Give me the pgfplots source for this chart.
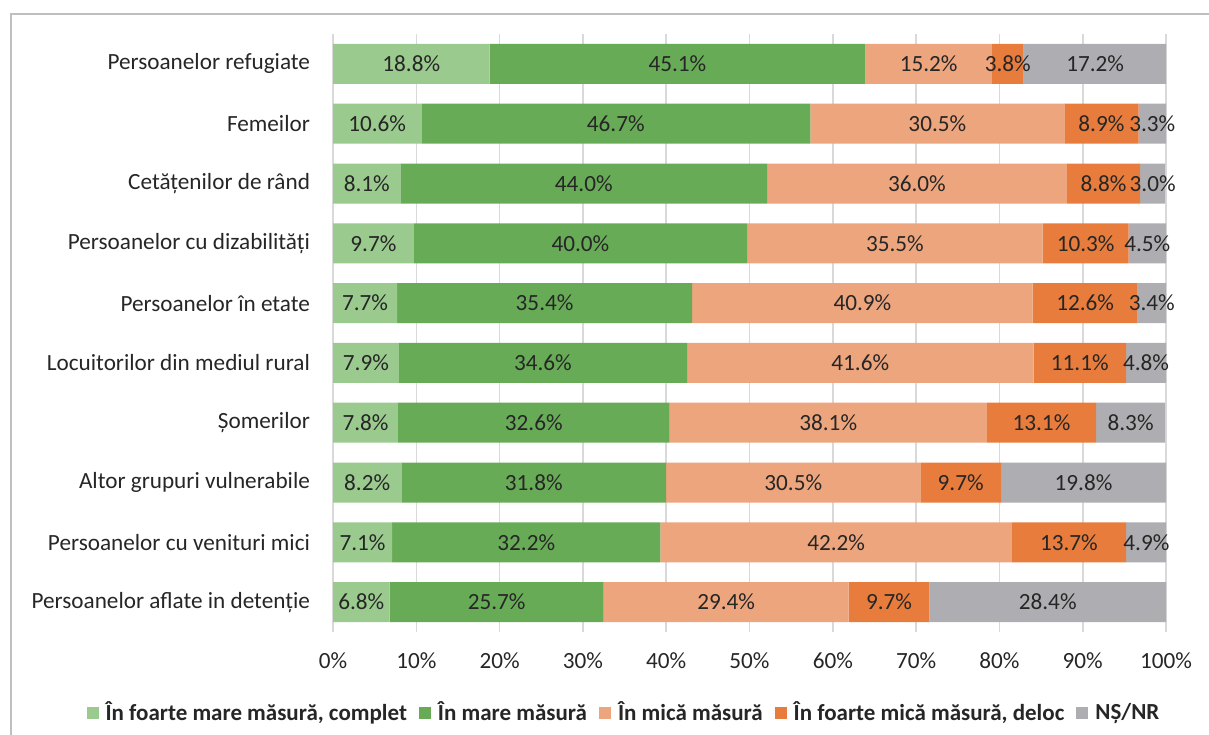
\documentclass[border=0pt]{standalone}
\usepackage{fontspec}
\setmainfont{Carlito}
\usepackage{pgfplots}
\usepackage{pgfplotstable}
\pgfplotsset{compat=1.18}
\pgfplotsset{/pgf/number format/assume math mode=true}

\definecolor{cA}{HTML}{9ACA8E}
\definecolor{cB}{HTML}{68AB57}
\definecolor{cC}{HTML}{EDA57E}
\definecolor{cD}{HTML}{E77C3C}
\definecolor{cE}{HTML}{AEAEB2}
\definecolor{txt}{HTML}{262626}
\definecolor{gridc}{HTML}{D9D9D9}

% idx 9 = top row
\pgfplotstableread{
idx a b c d e
9 18.8 45.1 15.2 3.8 17.2
8 10.6 46.7 30.5 8.9 3.3
7 8.1 44.0 36.0 8.8 3.0
6 9.7 40.0 35.5 10.3 4.5
5 7.7 35.4 40.9 12.6 3.4
4 7.9 34.6 41.6 11.1 4.8
3 7.8 32.6 38.1 13.1 8.3
2 8.2 31.8 30.5 9.7 19.8
1 7.1 32.2 42.2 13.7 4.9
0 6.8 25.7 29.4 9.7 28.4
}\datatable
\pgfplotstablecreatecol[create col/expr={\thisrow{a}/2}]{ma}\datatable
\pgfplotstablecreatecol[create col/expr={\thisrow{a}+\thisrow{b}/2}]{mb}\datatable
\pgfplotstablecreatecol[create col/expr={\thisrow{a}+\thisrow{b}+\thisrow{c}/2}]{mc}\datatable
\pgfplotstablecreatecol[create col/expr={\thisrow{a}+\thisrow{b}+\thisrow{c}+\thisrow{d}/2}]{md}\datatable
\pgfplotstablecreatecol[create col/expr={\thisrow{a}+\thisrow{b}+\thisrow{c}+\thisrow{d}+\thisrow{e}/2}]{me}\datatable

\def\fnt{\fontsize{11.6}{13}\selectfont}
\pgfplotsset{
  geom/.style={
    at={(166.5pt,51pt)}, anchor=south west,
    scale only axis, width=416.5pt, height=299pt,
    xmin=0, xmax=100, ymin=-0.5, ymax=9.5,
  },
  lbl/.style={only marks, mark=none, point meta=explicit,
    nodes near coords={\pgfmathprintnumber[fixed,fixed zerofill,precision=1]{\pgfplotspointmeta}\%},
    nodes near coords align=center,
    every node near coord/.append style={anchor=center, text=txt, font=\fnt, inner sep=0pt}},
}

\begin{document}
\begin{tikzpicture}
\path[use as bounding box] (0pt,0pt) rectangle (604.5pt,367pt);
\draw[line width=0.8pt, color=black!25] (5.5pt,-5pt) -- (5.5pt,360pt) -- (615pt,360pt);

\begin{axis}[geom,
  xbar stacked, bar width=20pt,
  axis line style={draw=none}, tick style={draw=none},
  xmajorgrids, grid style={gridc, line width=0.8pt},
  xtick={0,10,...,100},
  xticklabel={\pgfmathprintnumber{\tick}\%},
  xticklabel style={yshift=-7pt},
  ytick={0,...,9},
  yticklabels={Persoanelor aflate in detenție, Persoanelor cu venituri mici, Altor grupuri vulnerabile, Șomerilor, Locuitorilor din mediul rural, Persoanelor în etate, Persoanelor cu dizabilități, Cetățenilor de rând, Femeilor, Persoanelor refugiate},
  yticklabel style={xshift=-8pt},
  tick label style={font=\fnt, text=txt},
  legend style={at={(rel axis cs:0.3505,-0.1355)}, anchor=center, draw=none,
    legend columns=-1, font=\bfseries\fontsize{11.5}{13}\selectfont, text=txt,
    /tikz/every odd column/.append style={column sep=1.5pt},
    /tikz/every even column/.append style={column sep=4pt},
    inner sep=0pt},
  legend image code/.code={\fill[#1] (0pt,-3pt) rectangle (6pt,3pt);},
]
\addplot[fill=cA, draw=none] table[x=a, y=idx] {\datatable};
\addplot[fill=cB, draw=none] table[x=b, y=idx] {\datatable};
\addplot[fill=cC, draw=none] table[x=c, y=idx] {\datatable};
\addplot[fill=cD, draw=none] table[x=d, y=idx] {\datatable};
\addplot[fill=cE, draw=none] table[x=e, y=idx] {\datatable};
\legend{{În foarte mare măsură, complet}, În mare măsură, În mică măsură, {În foarte mică măsură, deloc}, NȘ/NR}
\end{axis}

\begin{axis}[geom, hide axis, clip=false]
\addplot[lbl] table[x=ma, y=idx, meta=a] {\datatable};
\addplot[lbl] table[x=mb, y=idx, meta=b] {\datatable};
\addplot[lbl] table[x=mc, y=idx, meta=c] {\datatable};
\addplot[lbl] table[x=md, y=idx, meta=d] {\datatable};
\addplot[lbl] table[x=me, y=idx, meta=e] {\datatable};
\end{axis}
\end{tikzpicture}
\end{document}
